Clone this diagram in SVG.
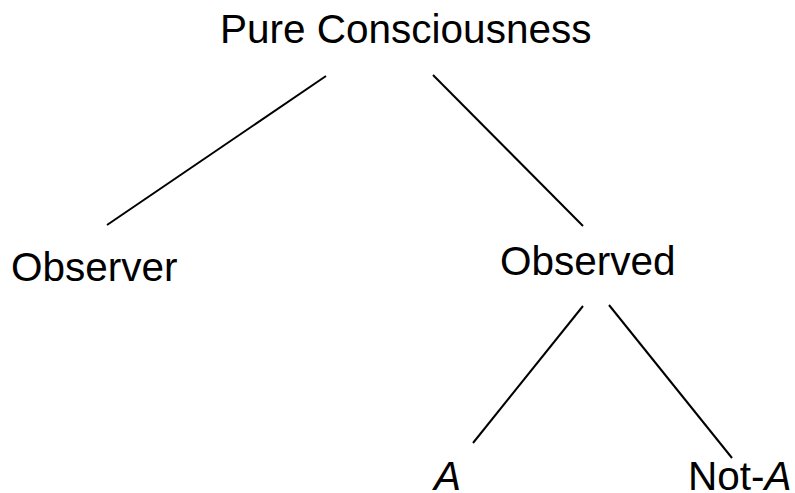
<svg xmlns="http://www.w3.org/2000/svg" width="795" height="493" viewBox="0 0 795 493">
<style>
text { font-family: "Liberation Sans", Arial, sans-serif; font-size: 40.5px; fill: #000; }
.conn line { stroke: #000; stroke-width: 2; }
</style>
<rect width="795" height="493" fill="#fff"/>
<g id="pure-consciousness"><text x="220" y="43">Pure Consciousness</text></g>
<g id="observer"><text x="11" y="281">Observer</text></g>
<g id="observed"><text x="500" y="275">Observed</text></g>
<g id="a"><text x="434" y="490" font-style="italic">A</text></g>
<g id="not-a"><text x="688" y="490">Not-<tspan font-style="italic">A</tspan></text></g>
<g id="connectors" class="conn">
<line x1="326" y1="76" x2="107" y2="225"/>
<line x1="433" y1="75" x2="583" y2="226"/>
<line x1="583" y1="306" x2="473" y2="443"/>
<line x1="609" y1="305" x2="732" y2="458"/>
</g>
</svg>
